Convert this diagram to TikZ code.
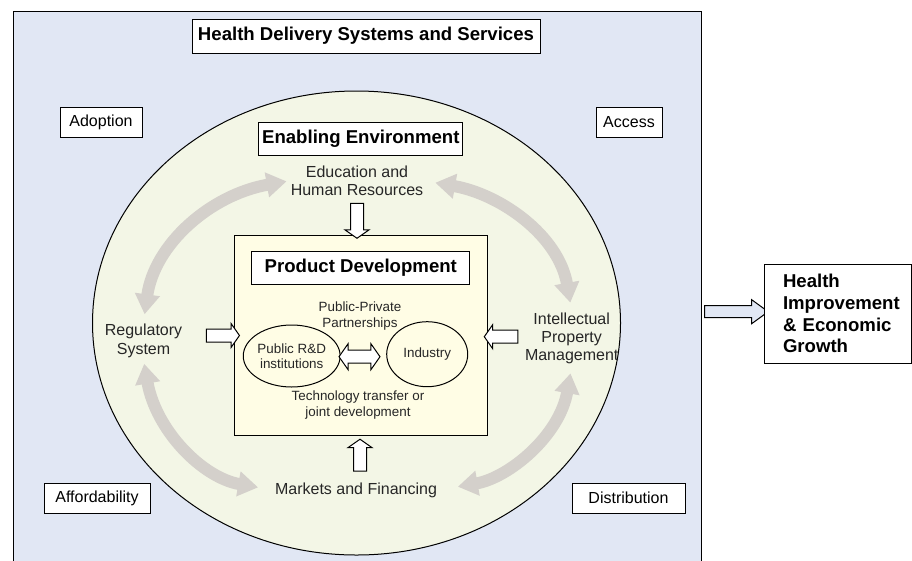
\documentclass[tikz,border=0pt]{standalone}
\usepackage{fontspec}
\setmainfont{Liberation Sans}
\usetikzlibrary{shapes.geometric,shapes.arrows,arrows.meta,positioning}
\definecolor{outerblue}{RGB}{225,231,244}
\definecolor{envgreen}{RGB}{243,246,230}
\definecolor{prodyellow}{RGB}{255,253,229}
\definecolor{loopgrey}{RGB}{212,208,203}
\tikzstyle{label box}=[draw,fill=white,line width=1pt,inner sep=0pt,minimum height=30pt,font=\fontsize{16}{18.3}\selectfont]
\tikzstyle{head box}=[draw,fill=white,line width=1pt,inner sep=0pt,font=\bfseries\fontsize{18.6}{21.7}\selectfont]
\tikzstyle{factor}=[align=center,inner sep=2pt,text=black!85,font=\fontsize{16}{18.3}\selectfont]
\tikzstyle{small text}=[align=center,inner sep=1pt,text=black!85,font=\fontsize{13.4}{16}\selectfont]
\tikzstyle{player}=[ellipse,draw,line width=1pt,inner sep=0pt,align=center,text=black!85,font=\fontsize{13.4}{15.5}\selectfont]
\tikzstyle{push arrow}=[single arrow,draw,fill=white,line width=1pt,inner sep=6pt,single arrow head extend=5.5pt,single arrow tip angle=110]
\tikzstyle{loop arrow}=[draw=loopgrey,line width=12pt,{Triangle[width=24pt,length=20pt]}-{Triangle[width=24pt,length=20pt]}]

\begin{document}
\begin{tikzpicture}[x=1pt,y=1pt]
        \useasboundingbox (0,0) rectangle (912,-560);
        % outer frame and the enabling environment
        \node[draw,fill=outerblue,line width=1.2pt,minimum width=688pt,minimum height=570pt,anchor=north west] (services) at (12.7,-11) {};
        \node[ellipse,draw,fill=envgreen,line width=1pt,minimum width=528pt,minimum height=464pt] (env) at (356.5,-323) {};

        \node[head box,minimum width=348pt,minimum height=34pt] (hdss) at (366,-36) {Health Delivery Systems and Services};
        \node[label box,minimum width=82pt] (adopt) at (101,-122) {Adoption};
        \node[label box,minimum width=66pt] (access) at (629,-122) {Access};
        \node[label box,minimum width=106pt] (afford) at (97,-498) {Affordability};
        \node[label box,minimum width=113pt] (distrib) at (628.5,-498) {Distribution};

        \node[head box,minimum width=204pt,minimum height=33pt] (enabling) at (360.8,-139.2) {Enabling Environment};
        \node[factor] (edu) at (357,-181) {Education and\\Human Resources};
        \node[factor] (reg) at (143.5,-341) {Regulatory\\System};
        \node[factor] (ipm) at (571.7,-338.5) {Intellectual\\Property\\Management};
        \node[factor] (mkt) at (356,-490) {Markets and Financing};

        % grey loop between the four factors
        \path[loop arrow,shorten <=8pt,shorten >=2pt] (reg.north) to[out=82,in=190] (edu.west);
        \path[loop arrow,shorten <=10pt,shorten >=8pt] (edu.east) to[out=-10,in=100] (ipm.north);
        \path[loop arrow,shorten <=4pt,shorten >=15pt] (reg.south) to[out=-80,in=170] (mkt.west);
        \path[loop arrow,shorten <=7pt,shorten >=19pt] (ipm.south) to[out=-100,in=10] (mkt.east);

        % product development
        \node[draw,fill=prodyellow,line width=1pt,minimum width=253pt,minimum height=200pt] (pd) at (360.8,-335) {};
        \node[head box,minimum width=218pt,minimum height=33pt] (pdtitle) at (360.8,-267.7) {Product Development};
        \node[small text] (ppp) at (360,-316) {Public-Private\\Partnerships};
        \node[player,minimum width=80pt,minimum height=62pt] (publ) at (291.7,-356) {Public R\&D\\institutions};
        \node[player,minimum width=81pt,minimum height=65pt] (ind) at (427.2,-354.2) {Industry};
        \node[double arrow,draw,fill=white,line width=1pt,inner sep=6pt,double arrow head extend=6.5pt,double arrow tip angle=110,minimum height=41pt] (ppparrow) at (359.5,-356.7) {};
        \node[small text] (tech) at (358,-404.7) {Technology transfer or\\joint development};

        % inputs into product development
        \node[push arrow,shape border rotate=270,minimum height=35pt] (edupush) at (357,-218.5) {};
        \node[push arrow,shape border rotate=0,minimum height=33pt] (regpush) at (220.7,-335.5) {};
        \node[push arrow,shape border rotate=180,minimum height=33.5pt] (ipmpush) at (503.3,-336.7) {};
        \node[push arrow,shape border rotate=90,minimum height=32pt] (mktpush) at (360,-457.5) {};

        % outcome
        \node[single arrow,draw,fill=outerblue,line width=1pt,inner sep=5.5pt,single arrow head extend=6pt,single arrow tip angle=72,minimum height=63.5pt] (outarrow) at (732.3,-311.7) {};
        \node[draw,fill=white,line width=1pt,minimum width=147pt,minimum height=99pt,inner sep=0pt,text width=109pt,align=left,font=\bfseries\fontsize{18.6}{21.7}\selectfont] (growth) at (837.5,-313.7) {Health\\Improvement\\\& Economic\\Growth};
\end{tikzpicture}
\end{document}
